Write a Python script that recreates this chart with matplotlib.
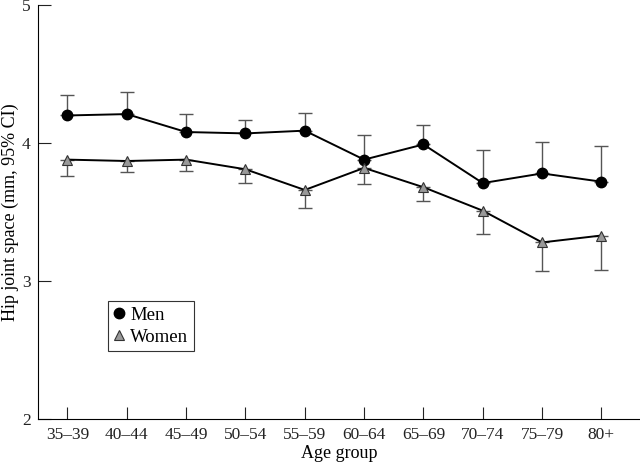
import numpy as np
import matplotlib.pyplot as plt

plt.rcParams['font.family'] = ['Liberation Serif', 'DejaVu Serif']

age_groups = ['35–39', '40–44', '45–49', '50–54', '55–59',
              '60–64', '65–69', '70–74', '75–79', '80+']
men = [4.20, 4.21, 4.08, 4.07, 4.09, 3.88, 3.99, 3.71, 3.78, 3.72]
men_upper = [4.35, 4.37, 4.21, 4.17, 4.22, 4.06, 4.13, 3.95, 4.01, 3.98]
women = [3.88, 3.87, 3.88, 3.81, 3.66, 3.82, 3.68, 3.51, 3.28, 3.33]
women_lower = [3.76, 3.79, 3.80, 3.71, 3.53, 3.70, 3.58, 3.34, 3.07, 3.08]

x = np.arange(len(age_groups))
men = np.array(men)
women = np.array(women)

fig = plt.figure(figsize=(6.4, 4.63), dpi=100)
ax = fig.add_axes([0.059, 0.095, 0.941, 0.894])

# one-sided error bars: men up, women down
ax.errorbar(x, men, yerr=[np.zeros(len(x)), np.array(men_upper) - men],
            fmt='none', ecolor='#555555', elinewidth=1, capsize=5, capthick=1, zorder=1)
ax.errorbar(x, women, yerr=[women - np.array(women_lower), np.zeros(len(x))],
            fmt='none', ecolor='#555555', elinewidth=1, capsize=5, capthick=1, zorder=1)

ax.plot(x, men, color='black', lw=1.4, marker='o', ms=7.5,
        mfc='black', mec='black', label='Men', zorder=3)
ax.plot(x, women, color='black', lw=1.4, marker='^', ms=7.5,
        mfc='#999999', mec='#333333', mew=0.8, label='Women', zorder=3)

ax.set_xlim(-0.5, 9.65)
ax.set_ylim(2, 5)
ax.set_yticks([2, 3, 4, 5])
ax.set_xticks(x)
ax.set_xticklabels(age_groups)
ax.tick_params(direction='in', length=9, width=0.8, labelsize=12.5, colors='#222222')
ax.tick_params(axis='x', pad=6)
ax.tick_params(axis='y', pad=5)
for s in ['top', 'right']:
    ax.spines[s].set_visible(False)
for s in ['left', 'bottom']:
    ax.spines[s].set_linewidth(0.8)

ax.set_xlabel('Age group', fontsize=13, labelpad=1)
ax.set_ylabel('Hip joint space (mm, 95% CI)', fontsize=13)
ax.yaxis.set_label_coords(-0.031, 0.5)

leg = ax.legend(loc='upper left', bbox_to_anchor=(0.116, 0.285), borderaxespad=0,
                fancybox=False, edgecolor='#333333', fontsize=13.5, handlelength=0.6,
                handletextpad=0.3, borderpad=0.3, labelspacing=0.25, framealpha=1)
for h in leg.get_lines():
    h.set_linestyle('none')
leg.get_frame().set_linewidth(0.8)

fig.savefig('out.png', dpi=100)
